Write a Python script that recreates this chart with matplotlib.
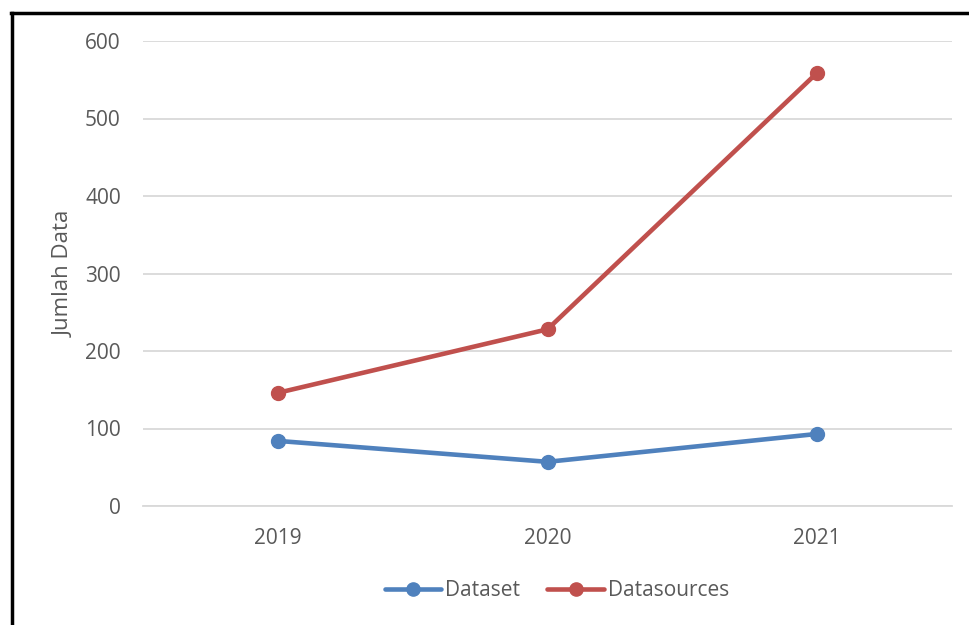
import matplotlib
matplotlib.use("Agg")
import matplotlib.pyplot as plt
from matplotlib.lines import Line2D

years = ["2019", "2020", "2021"]
dataset = [84, 57, 93]
datasources = [146, 228, 559]
yticks = [0, 100, 200, 300, 400, 500, 600]

plt.rcParams['font.family'] = ['Open Sans', 'DejaVu Sans']

fig = plt.figure(figsize=(9.69, 6.25), dpi=100)
ax = fig.add_axes([143/969, 1-506/625, (952-143)/969, (506-41)/625])

x = list(range(len(years)))
ax.plot(x, dataset, color="#4F81BD", lw=3.3, marker="o", ms=10, label="Dataset", solid_capstyle="round")
ax.plot(x, datasources, color="#C0504D", lw=3.3, marker="o", ms=10, label="Datasources", solid_capstyle="round")

ax.set_xlim(-0.5, 2.5)
ax.set_ylim(0, 600)
ax.set_yticks(yticks)
ax.set_xticks(x)
ax.set_xticklabels(years)
ax.grid(axis="y", color="#D9D9D9", lw=1.3)
ax.set_axisbelow(True)
for s in ["top", "right", "left"]:
    ax.spines[s].set_visible(False)
ax.spines["bottom"].set_color("#D9D9D9")
ax.spines["bottom"].set_linewidth(1.3)
ax.tick_params(length=0, labelsize=15, colors="#595959")
ax.tick_params(axis="y", pad=16)
ax.tick_params(axis="x", pad=16)
ax.set_ylabel("Jumlah Data", fontsize=16, color="#595959")
ax.yaxis.set_label_coords((75-143)/809, 0.5)

ax.legend(loc="center", bbox_to_anchor=(557/969, 1-591/625), bbox_transform=fig.transFigure,
          ncol=2, frameon=False, fontsize=15, labelcolor="#595959", handlelength=2.7,
          columnspacing=1.3, handletextpad=0.2, markerscale=0.95)

fig.add_artist(Line2D([11/969, 1], [1-13/625, 1-13/625], color="black", lw=2.5, transform=fig.transFigure))
fig.add_artist(Line2D([11.5/969, 11.5/969], [0, 1-13/625], color="black", lw=2.5, transform=fig.transFigure))

fig.savefig("out.png", dpi=100)
